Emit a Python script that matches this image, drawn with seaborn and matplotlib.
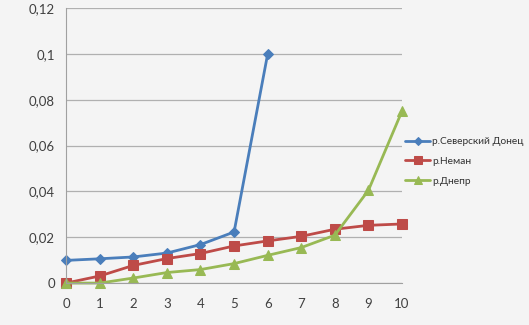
import matplotlib
matplotlib.use("Agg")
import matplotlib.pyplot as plt
import seaborn as sns
import pandas as pd
from matplotlib import font_manager

sns.set_style("white")
plt.rcParams['font.family'] = ['Lato', 'DejaVu Sans']

x_donets = [0, 1, 2, 3, 4, 5, 6]
y_donets = [0.0099, 0.0106, 0.0114, 0.0131, 0.0168, 0.0223, 0.1]
x_all = [0, 1, 2, 3, 4, 5, 6, 7, 8, 9, 10]
y_neman = [0.0, 0.0031, 0.0077, 0.0107, 0.0129, 0.0162, 0.0184, 0.0204, 0.0235, 0.0252, 0.0258]
y_dnepr = [0.0, 0.0, 0.0022, 0.0046, 0.0059, 0.0085, 0.0121, 0.0155, 0.0209, 0.0405, 0.0751]
names = ["р.Северский Донец", "р.Неман", "р.Днепр"]
yticks = [0, 0.02, 0.04, 0.06, 0.08, 0.1, 0.12]
ytick_labels = ["0", "0,02", "0,04", "0,06", "0,08", "0,1", "0,12"]

available = {f.name for f in font_manager.fontManager.ttflist}
leg_family = "Liberation Sans Narrow" if "Liberation Sans Narrow" in available else "Lato"
leg_size = 9.0 if leg_family == "Liberation Sans Narrow" else 7.3

fig = plt.figure(figsize=(5.29, 3.25), dpi=100)
fig.patch.set_facecolor("#f4f4f4")
ax = fig.add_axes([0.125, 0.129, 0.635, 0.846])
ax.set_facecolor("#f4f4f4")

sns.lineplot(x=x_donets, y=y_donets, ax=ax, color="#4a7ebb", marker="D", markersize=5,
             markeredgecolor="#4a7ebb", linewidth=2, label=names[0])
sns.lineplot(x=x_all, y=y_neman, ax=ax, color="#be4b48", marker="s", markersize=7,
             markeredgecolor="#be4b48", linewidth=2, label=names[1])
sns.lineplot(x=x_all, y=y_dnepr, ax=ax, color="#98b954", marker="^", markersize=7,
             markeredgecolor="#98b954", linewidth=2, label=names[2])

ax.set_xlim(0, 10)
ax.set_ylim(0, 0.12)
ax.set_xticks(x_all)
ax.set_yticks(yticks)
ax.set_yticklabels(ytick_labels)
ax.grid(axis="y", color="#b0b0b0", linewidth=0.9)
ax.set_axisbelow(True)
for s in ["top", "right"]:
    ax.spines[s].set_visible(False)
ax.spines["left"].set_color("#a0a0a0")
ax.spines["bottom"].set_color("#a0a0a0")
ax.tick_params(axis="x", direction="out", length=5, color="#a0a0a0", labelsize=9.5, labelcolor="#404040", pad=6)
ax.tick_params(axis="y", length=0, labelsize=9.5, labelcolor="#404040", pad=8)
ax.set_xlabel("")
ax.set_ylabel("")
ax.margins(x=0)
for line in ax.lines:
    line.set_clip_on(False)

ax.get_legend().remove()
handles, labels = ax.get_legend_handles_labels()
leg = fig.legend(handles, labels, loc="upper left", bbox_to_anchor=(405 / 529, 1 - 137 / 325),
                 frameon=False, prop={"family": [leg_family, "DejaVu Sans"], "size": leg_size},
                 handlelength=2.5, handletextpad=0.2, markerscale=0.85,
                 labelspacing=1.05, borderaxespad=0, borderpad=0)
for t in leg.get_texts():
    t.set_color("#303030")

fig.savefig("out.png", dpi=100, facecolor=fig.get_facecolor())
